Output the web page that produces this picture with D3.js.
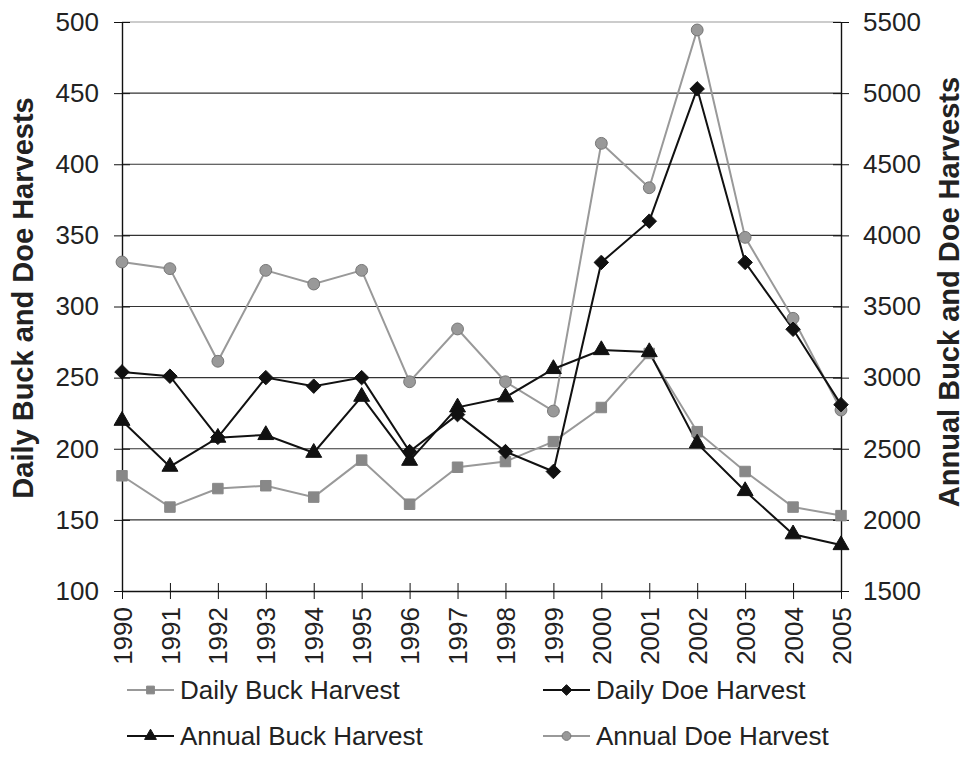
<!DOCTYPE html>
<html>
<head>
<meta charset="utf-8">
<script src="https://cdn.jsdelivr.net/npm/d3@7"></script>
<style>
  body { margin: 0; background: #fff; }
  svg { font-family: "Liberation Sans", Arial, sans-serif; }
</style>
</head>
<body>
<svg id="chart" width="966" height="776"></svg>
<script>
const years = ["1990","1991","1992","1993","1994","1995","1996","1997","1998","1999","2000","2001","2002","2003","2004","2005"];

// daily series -> left axis
const dailyBuck = [181, 159, 172, 174, 166, 192, 161, 187, 191, 205, 229, 267, 212, 184, 159, 153];
const dailyDoe  = [254, 251, 208, 250, 244, 250, 198, 224, 198, 184, 331, 360, 453, 331, 284, 231];
// annual series -> right axis
const annualBuck = [2697, 2374, 2578, 2597, 2472, 2866, 2416, 2791, 2862, 3061, 3194, 3180, 2538, 2203, 1899, 1823];
const annualDoe  = [3813, 3766, 3115, 3754, 3658, 3754, 2971, 3342, 2971, 2765, 4647, 4335, 5444, 3986, 3417, 2772];

const leftTicks = [100, 150, 200, 250, 300, 350, 400, 450, 500];
const rightTicks = [1500, 2000, 2500, 3000, 3500, 4000, 4500, 5000, 5500];

const svg = d3.select("#chart");
const margin = { top: 22, left: 122, right: 125, bottom: 185 };
const W = 966, H = 776;
const innerW = W - margin.left - margin.right;
const innerH = H - margin.top - margin.bottom;

const g = svg.append("g").attr("transform", `translate(${margin.left},${margin.top})`);

const x = d3.scalePoint().domain(years).range([0, innerW]);
const yL = d3.scaleLinear().domain([100, 500]).range([innerH, 0]);
const yR = d3.scaleLinear().domain([1500, 5500]).range([innerH, 0]);

// gridlines
g.append("g").selectAll("line").data(leftTicks.slice(1)).join("line")
  .attr("x1", 0).attr("x2", innerW)
  .attr("y1", d => yL(d)).attr("y2", d => yL(d))
  .attr("stroke", d => d === 500 ? "#999" : "#333")
  .attr("stroke-width", 1.2);

const fontSize = 26;
const fontFam = "Liberation Sans, Arial, sans-serif";

// left axis
const leftAxis = g.append("g")
  .call(d3.axisLeft(yL).tickValues(leftTicks).tickFormat(d3.format("d")).tickSize(8).tickPadding(15).tickSizeOuter(0));
leftAxis.select(".domain").attr("stroke", "#111").attr("stroke-width", 1.4);
leftAxis.selectAll(".tick line").attr("stroke", "#111").attr("x2", -8).attr("x1", 8);
leftAxis.selectAll("text").attr("font-size", fontSize).attr("fill", "#222").attr("font-family", fontFam);

// right axis
const rightAxis = g.append("g").attr("transform", `translate(${innerW},0)`)
  .call(d3.axisRight(yR).tickValues(rightTicks).tickFormat(d3.format("d")).tickSize(8).tickPadding(14).tickSizeOuter(0));
rightAxis.select(".domain").attr("stroke", "#111").attr("stroke-width", 1.4);
rightAxis.selectAll(".tick line").attr("stroke", "#111").attr("x1", -8).attr("x2", 8);
rightAxis.selectAll("text").attr("font-size", fontSize).attr("fill", "#222").attr("font-family", fontFam);

// bottom axis
const bottomAxis = g.append("g").attr("transform", `translate(0,${innerH})`)
  .call(d3.axisBottom(x).tickSize(8).tickPadding(0).tickSizeOuter(0));
bottomAxis.select(".domain").attr("stroke", "#111").attr("stroke-width", 1.4);
bottomAxis.selectAll(".tick line").attr("stroke", "#111").attr("y1", -8).attr("y2", 8);
bottomAxis.selectAll("text")
  .attr("font-size", fontSize).attr("fill", "#222").attr("font-family", fontFam)
  .attr("transform", "rotate(-90)")
  .attr("text-anchor", "end")
  .attr("x", -16).attr("y", 0).attr("dy", "0.35em");

// axis titles
const titleY = 298;
svg.append("text")
  .attr("transform", `translate(33,${titleY}) rotate(-90)`)
  .attr("text-anchor", "middle")
  .attr("font-size", 29).attr("font-weight", "bold").attr("fill", "#222")
  .text("Daily Buck and Doe Harvests");

svg.append("text")
  .attr("transform", `translate(959,${titleY - 6}) rotate(-90)`)
  .attr("text-anchor", "middle")
  .attr("font-size", 29).attr("font-weight", "bold").attr("fill", "#222")
  .text("Annual Buck and Doe Harvests");

// diamond = square turned 45 degrees
const symDiamond = {
  draw(ctx, size) {
    const r = Math.sqrt(size / 2);
    ctx.moveTo(0, -r); ctx.lineTo(r, 0); ctx.lineTo(0, r); ctx.lineTo(-r, 0); ctx.closePath();
  }
};

// series
const series = [
  { name: "Daily Buck Harvest", values: dailyBuck, y: yL, line: "#999", fill: "#888", stroke: "#888", sym: d3.symbolSquare, size: 110 },
  { name: "Daily Doe Harvest", values: dailyDoe, y: yL, line: "#111", fill: "#111", stroke: "#111", sym: symDiamond, size: 105 },
  { name: "Annual Buck Harvest", values: annualBuck, y: yR, line: "#111", fill: "#111", stroke: "#111", sym: d3.symbolTriangle, size: 110 },
  { name: "Annual Doe Harvest", values: annualDoe, y: yR, line: "#999", fill: "#999", stroke: "#777", sym: d3.symbolCircle, size: 110 }
];

const drawOrder = [series[0], series[3], series[2], series[1]];

drawOrder.forEach(s => {
  const line = d3.line().x((d, i) => x(years[i])).y(d => s.y(d));
  g.append("path").datum(s.values)
    .attr("fill", "none").attr("stroke", s.line).attr("stroke-width", 2)
    .attr("d", line);
});
drawOrder.forEach(s => {
  g.append("g").selectAll("path").data(s.values).join("path")
    .attr("transform", (d, i) => `translate(${x(years[i])},${s.y(d)})`)
    .attr("d", d3.symbol().type(s.sym).size(s.size))
    .attr("fill", s.fill).attr("stroke", s.stroke).attr("stroke-width", 1);
});

// legend
const legendPos = [
  { s: series[0], x: 127, y: 690 },
  { s: series[1], x: 543, y: 690 },
  { s: series[2], x: 127, y: 736 },
  { s: series[3], x: 543, y: 736 }
];
const lg = svg.append("g");
legendPos.forEach(p => {
  const item = lg.append("g").attr("transform", `translate(${p.x},${p.y})`);
  item.append("line").attr("x1", 0).attr("x2", 47).attr("y1", 0).attr("y2", 0)
    .attr("stroke", p.s.line).attr("stroke-width", 2);
  item.append("path").attr("transform", "translate(23.5,0)")
    .attr("d", d3.symbol().type(p.s.sym).size(p.s.size * 0.55))
    .attr("fill", p.s.fill).attr("stroke", p.s.stroke);
  item.append("text").attr("x", 53).attr("dy", "0.35em")
    .attr("font-size", 26).attr("fill", "#222")
    .text(p.s.name);
});
</script>
</body>
</html>
